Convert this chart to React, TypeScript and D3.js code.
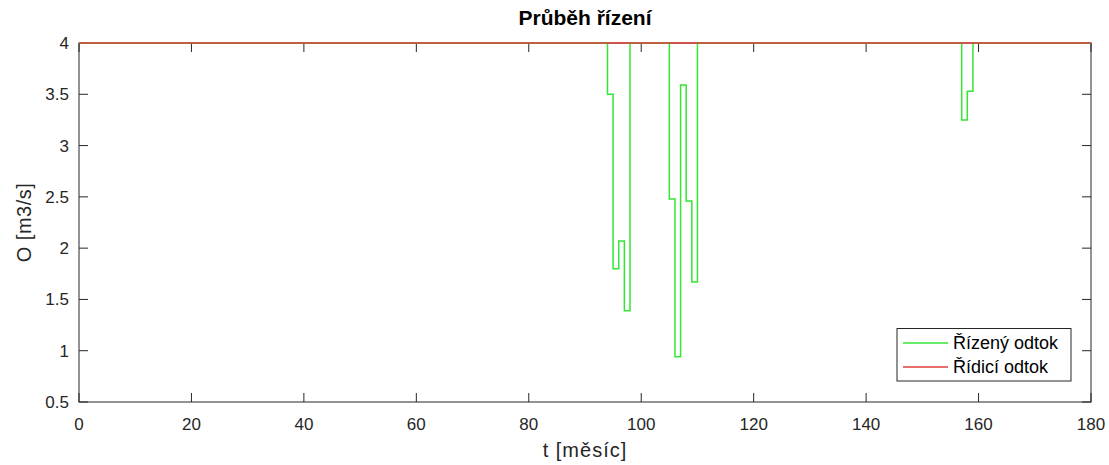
import React from 'react';
import * as d3 from 'd3';

// change points of the stair series: [month, value], held until the next point
const rizenyT = [0, 94, 95, 96, 97, 98, 105, 106, 107, 108, 109, 110, 157, 158, 159, 180];
const rizenyO = [4, 3.5, 1.8, 2.07, 1.39, 4, 2.48, 0.94, 3.59, 2.46, 1.67, 4, 3.25, 3.53, 4, 4];
const ridiciT = [0, 180];
const ridiciO = [4, 4];

const xTicks = [0, 20, 40, 60, 80, 100, 120, 140, 160, 180];
const yTicks = [0.5, 1, 1.5, 2, 2.5, 3, 3.5, 4];
const legendLabels = ['Řízený odtok', 'Řídicí odtok'];

const W = 1109, H = 465;
const left = 79, right = 1091, top = 43, bottom = 402;
const axisColor = '#262626';
const font = '"Liberation Sans", Arial, sans-serif';

const App = () => {
    const x = d3.scaleLinear().domain([0, 180]).range([left, right]);
    const y = d3.scaleLinear().domain([0.5, 4]).range([bottom, top]);

    const line = d3.line<[number, number]>()
        .x(d => x(d[0]))
        .y(d => y(d[1]))
        .curve(d3.curveStepAfter);

    const green = line(rizenyT.map((t, i) => [t, rizenyO[i]]));
    const red = line(ridiciT.map((t, i) => [t, ridiciO[i]]));
    const tl = 9;

    return (
        <svg width={W} height={H} style={{ position: 'absolute', left: 0, top: 0, background: '#fff' }}
            fontFamily={font}>
            <rect x={0} y={0} width={W} height={H} fill="#fff" />
            {/* ticks, inside on all four sides */}
            {xTicks.map(t => (
                <g key={'x' + t}>
                    <line x1={x(t)} x2={x(t)} y1={bottom} y2={bottom - tl} stroke={axisColor} />
                    <line x1={x(t)} x2={x(t)} y1={top} y2={top + tl} stroke={axisColor} />
                    <text x={x(t)} y={430} textAnchor="middle" fontSize={17} fill={axisColor}>{t}</text>
                </g>
            ))}
            {yTicks.map(t => (
                <g key={'y' + t}>
                    <line x1={left} x2={left + tl} y1={y(t)} y2={y(t)} stroke={axisColor} />
                    <line x1={right} x2={right - tl} y1={y(t)} y2={y(t)} stroke={axisColor} />
                    <text x={69} y={y(t) + 6} textAnchor="end" fontSize={17} fill={axisColor}>{t}</text>
                </g>
            ))}
            <rect x={left} y={top} width={right - left} height={bottom - top} fill="none" stroke={axisColor} />
            <path d={green ?? ''} fill="none" stroke="#33e633" strokeWidth={1.5} />
            <path d={red ?? ''} fill="none" stroke="#e03c3c" strokeWidth={1.5} />
            <text x={(left + right) / 2} y={25} textAnchor="middle" fontSize={21} fontWeight="bold" fill="#000">Průběh řízení</text>
            <text x={(left + right) / 2} y={457} textAnchor="middle" fontSize={20} letterSpacing={1} fill={axisColor}>t [měsíc]</text>
            <text transform={`translate(31 ${(top + bottom) / 2}) rotate(-90)`} textAnchor="middle" fontSize={20} letterSpacing={0.5} fill={axisColor}>O [m3/s]</text>
            {/* legend */}
            <g>
                <rect x={897} y={328.5} width={174} height={52.5} fill="#fff" stroke={axisColor} />
                {legendLabels.map((l, i) => (
                    <g key={l}>
                        <line x1={903} x2={948} y1={343 + i * 24} y2={343 + i * 24}
                            stroke={i === 0 ? '#33e633' : '#e03c3c'} strokeWidth={1.5} />
                        <text x={953} y={349 + i * 24} fontSize={18} fill="#000">{l}</text>
                    </g>
                ))}
            </g>
        </svg>
    );
};

export default App;
